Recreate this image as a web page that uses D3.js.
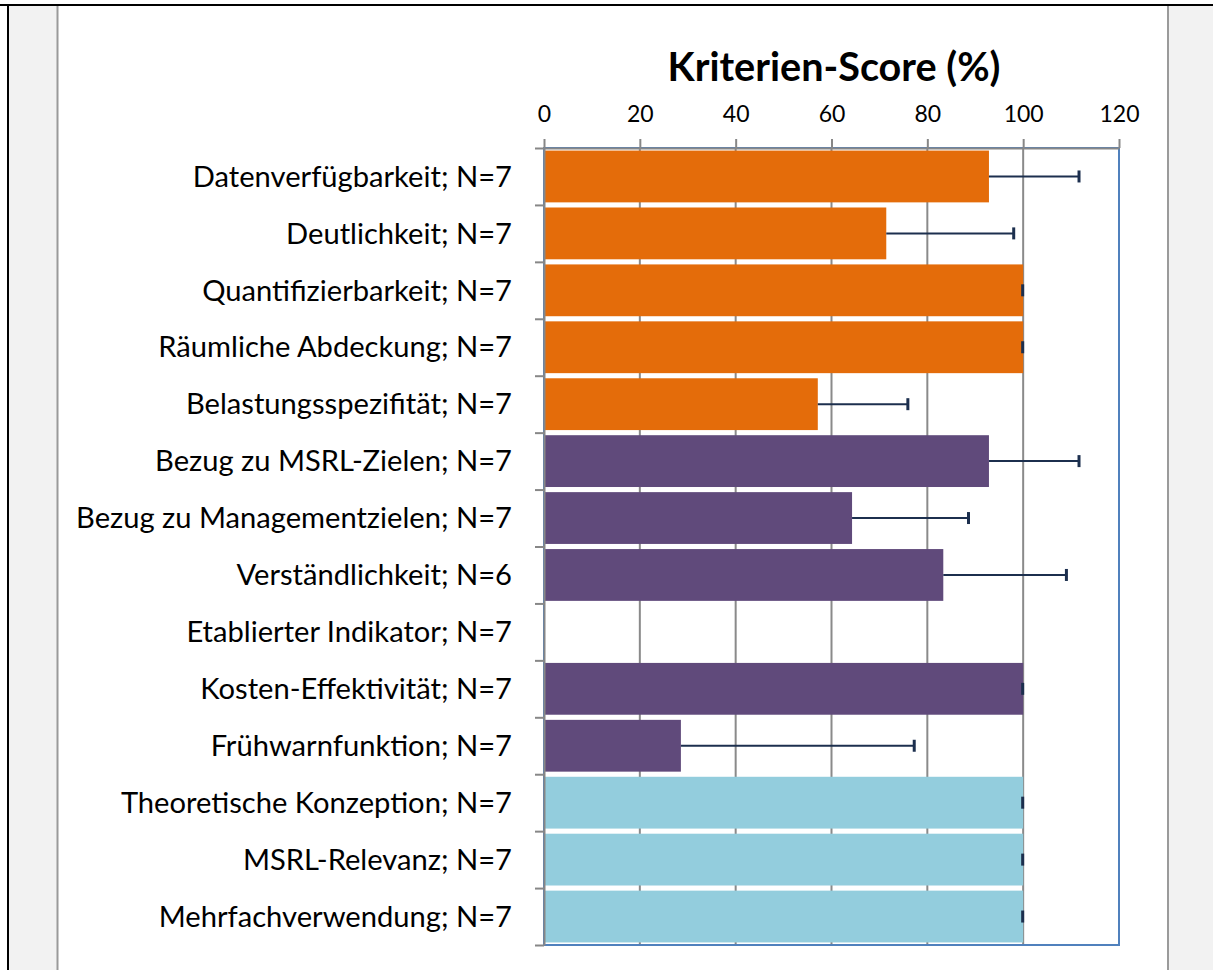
<!DOCTYPE html>
<html>
<head>
<meta charset="utf-8">
<script src="https://cdn.jsdelivr.net/npm/d3@7"></script>
<style>
  html, body { margin: 0; padding: 0; background: #ffffff; }
  svg { display: block; }
</style>
</head>
<body>
<script>
// ---- data ----
const categories = [
  "Datenverfügbarkeit; N=7",
  "Deutlichkeit; N=7",
  "Quantifizierbarkeit; N=7",
  "Räumliche Abdeckung; N=7",
  "Belastungsspezifität; N=7",
  "Bezug zu MSRL-Zielen; N=7",
  "Bezug zu Managementzielen; N=7",
  "Verständlichkeit; N=6",
  "Etablierter Indikator; N=7",
  "Kosten-Effektivität; N=7",
  "Frühwarnfunktion; N=7",
  "Theoretische Konzeption; N=7",
  "MSRL-Relevanz; N=7",
  "Mehrfachverwendung; N=7"
];
const scores = [92.86, 71.43, 100, 100, 57.14, 92.86, 64.29, 83.33, 0, 100, 28.57, 100, 100, 100];
const errors = [18.9, 26.7, 0, 0, 18.9, 18.9, 24.4, 25.8, null, 0, 48.8, 0, 0, 0];
const groups = ["A","A","A","A","A","B","B","B","B","B","B","C","C","C"];
const groupColors = { A: "#e46c0a", B: "#604a7b", C: "#93cddd" };
const xTicks = [0, 20, 40, 60, 80, 100, 120];
const title = "Kriterien-Score (%)";

// ---- setup ----
const W = 1213, H = 970;
const FONT = "Lato, 'Open Sans', sans-serif";
const svg = d3.select("body").append("svg").attr("width", W).attr("height", H);

function measure(txt, weight, size) {
  const t = svg.append("text").attr("font-family", FONT).attr("font-weight", weight)
    .attr("font-size", size).text(txt);
  const w = t.node().getComputedTextLength();
  t.remove();
  return w;
}

// ---- frame ----
svg.append("rect").attr("x", 9).attr("y", 6).attr("width", W - 9).attr("height", H - 6).attr("fill", "#f2f2f2");
svg.append("rect").attr("x", 57).attr("y", 6).attr("width", 1111).attr("height", H - 6).attr("fill", "#ffffff");
svg.append("line").attr("x1", 57.5).attr("x2", 57.5).attr("y1", 6).attr("y2", H).attr("stroke", "#9a9a9a").attr("stroke-width", 2);
svg.append("line").attr("x1", 1168).attr("x2", 1168).attr("y1", 6).attr("y2", H).attr("stroke", "#9a9a9a").attr("stroke-width", 2);
svg.append("line").attr("x1", 0).attr("x2", W).attr("y1", 5).attr("y2", 5).attr("stroke", "#000").attr("stroke-width", 2);
svg.append("line").attr("x1", 8).attr("x2", 8).attr("y1", 4).attr("y2", H).attr("stroke", "#000").attr("stroke-width", 2);

// ---- scales ----
const x = d3.scaleLinear().domain([0, 120]).range([544, 1119]);
const y = d3.scaleBand().domain(categories).range([148, 945]).paddingInner(0.09).paddingOuter(0.045);
const yIdx = d3.scaleLinear().domain([0, categories.length]).range([148, 945]);

const labelSize = 100 * 436 / measure(categories[6], 400, 100);
const tickSize = 23;
const titleSize = 100 * 333 / measure(title, 700, 100);

// gridlines
svg.append("g").selectAll("line").data(xTicks.filter(d => d > 0 && d < 120)).join("line")
  .attr("x1", d => x(d)).attr("x2", d => x(d)).attr("y1", 148).attr("y2", 945)
  .attr("stroke", "#8a8a8a").attr("stroke-width", 2);

// plot border
svg.append("rect").attr("x", x(0)).attr("y", 148).attr("width", x(120) - x(0)).attr("height", 945 - 148)
  .attr("fill", "none").attr("stroke", "#5081bd").attr("stroke-width", 2);

// bars
svg.append("g").selectAll("rect").data(categories).join("rect")
  .attr("x", x(0) + 1)
  .attr("y", d => y(d))
  .attr("width", (d, i) => Math.max(0, x(scores[i]) - x(0) - 1))
  .attr("height", y.bandwidth())
  .attr("fill", (d, i) => groupColors[groups[i]]);

// axes
const xAxis = svg.append("g").attr("transform", "translate(0,148)")
  .call(d3.axisTop(x).tickValues(xTicks).tickSize(9).tickSizeOuter(0).tickPadding(17));
xAxis.select(".domain").attr("stroke", "#878787").attr("stroke-width", 2);
xAxis.selectAll(".tick line").attr("stroke", "#878787").attr("stroke-width", 2);
xAxis.selectAll(".tick text").attr("font-family", FONT).attr("font-size", tickSize).attr("fill", "#000");

const yTickAxis = svg.append("g").attr("transform", `translate(${x(0)},0)`)
  .call(d3.axisLeft(yIdx).tickValues(d3.range(categories.length + 1)).tickSize(9).tickSizeOuter(0).tickFormat(""));
yTickAxis.select(".domain").attr("stroke", "#878787").attr("stroke-width", 2);
yTickAxis.selectAll(".tick line").attr("stroke", "#878787").attr("stroke-width", 2);

const yAxis = svg.append("g").attr("transform", `translate(${x(0)},0)`)
  .call(d3.axisLeft(y).tickSize(0).tickPadding(32));
yAxis.select(".domain").remove();
yAxis.selectAll(".tick text").attr("font-family", FONT).attr("font-size", labelSize)
  .attr("fill", "#000").attr("dy", "0.35em");

// error bars
const eb = svg.append("g");
categories.forEach((c, i) => {
  if (errors[i] === null) return;
  const cy = y(c) + y.bandwidth() / 2;
  const x0 = x(scores[i]), x1 = x(scores[i] + errors[i]);
  eb.append("line").attr("x1", x0).attr("x2", x1).attr("y1", cy).attr("y2", cy)
    .attr("stroke", "#1c2f4e").attr("stroke-width", 2);
  eb.append("line").attr("x1", x1 - 0.5).attr("x2", x1 - 0.5).attr("y1", cy - 6).attr("y2", cy + 6)
    .attr("stroke", "#1c2f4e").attr("stroke-width", 3);
});

// title
svg.append("text").attr("x", 834).attr("y", 81).attr("text-anchor", "middle")
  .attr("font-family", FONT).attr("font-weight", 700).attr("font-size", titleSize)
  .attr("fill", "#000").text(title);
</script>
</body>
</html>
